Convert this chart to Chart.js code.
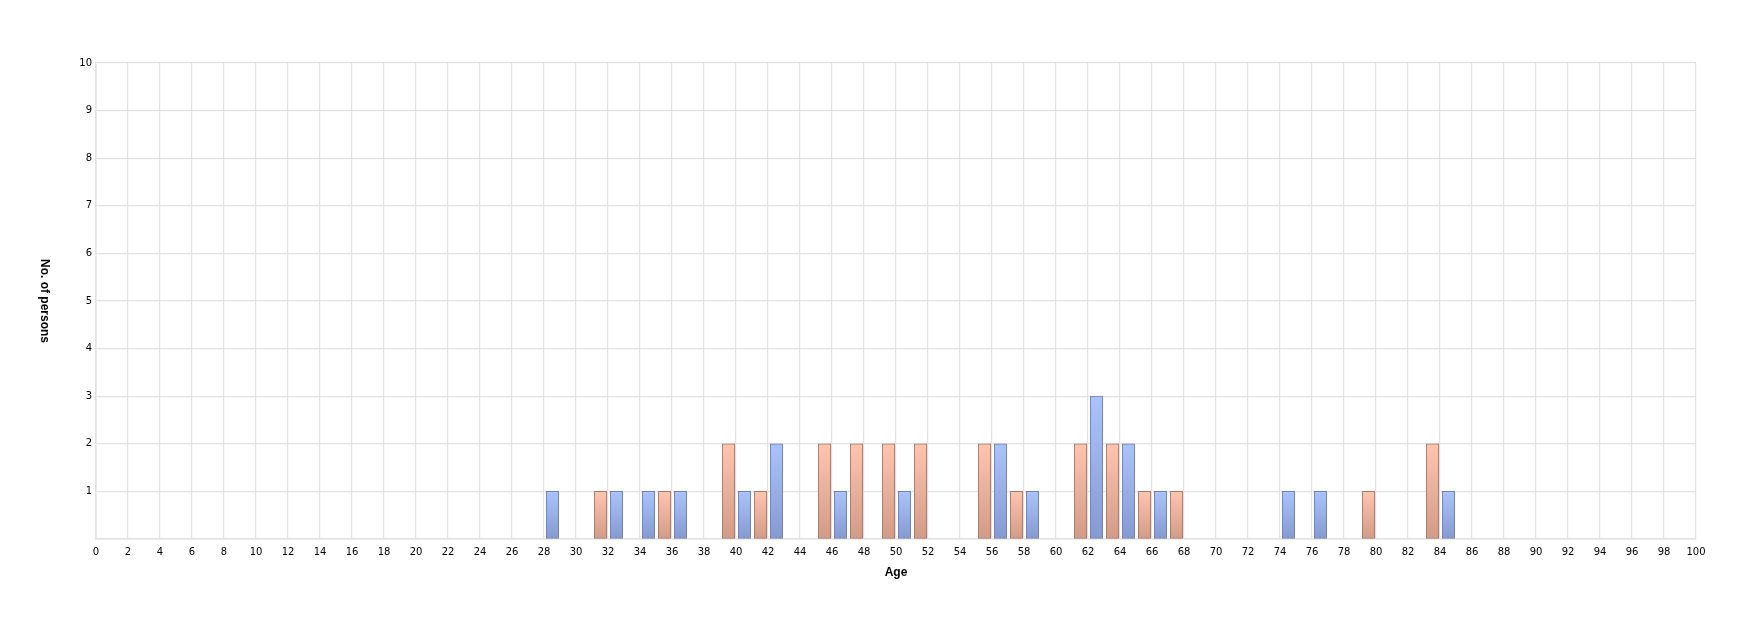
<!DOCTYPE html>
<html lang="en">
<head>
    <meta charset="UTF-8">
    <title>No. of persons by age</title>
    <script src="https://cdn.jsdelivr.net/npm/chart.js"></script>
    <style>
        html, body { margin: 0; padding: 0; background: #fff; }
        #wrap { width: 1760px; height: 628px; }
    </style>
</head>
<body>
    <div id="wrap">
        <canvas id="Chart"></canvas>
    </div>

    <script>
        // ages (bin start) and counts
        const blueAges = [28, 32, 34, 36, 40, 42, 46, 50, 56, 58, 62, 64, 66, 74, 76, 84];
        const blueCounts = [1, 1, 1, 1, 1, 2, 1, 1, 2, 1, 3, 2, 1, 1, 1, 1];
        const orangeAges = [31, 35, 39, 41, 45, 47, 49, 51, 55, 57, 61, 63, 65, 67, 79, 83];
        const orangeCounts = [1, 1, 2, 1, 2, 2, 2, 2, 2, 1, 2, 2, 1, 1, 1, 2];
        const xTitle = 'Age';
        const yTitle = 'No. of persons';

        // bar sits in the middle of its one-year bin
        function toPoints(ages, counts) {
            return ages.map((a, i) => ({ x: a + 0.53, y: counts[i] }));
        }

        // vertical gradient per bar, light at the top
        function barFill(top, bottom) {
            return function (ctx) {
                const chart = ctx.chart;
                const y = chart.scales.y;
                if (!chart.chartArea || !ctx.raw) return top;
                const y0 = y.getPixelForValue(ctx.raw.y);
                const y1 = y.getPixelForValue(0);
                const g = chart.ctx.createLinearGradient(0, y0, 0, y1);
                g.addColorStop(0, top);
                g.addColorStop(1, bottom);
                return g;
            };
        }

        // y title reads top to bottom
        const yTitlePlugin = {
            id: 'yTitle',
            afterDraw(chart) {
                const c = chart.ctx;
                const a = chart.chartArea;
                c.save();
                c.translate(44, (a.top + a.bottom) / 2);
                c.rotate(Math.PI / 2);
                c.font = 'bold 12px "Liberation Sans", Arial, sans-serif';
                c.fillStyle = '#000';
                c.textAlign = 'center';
                c.textBaseline = 'middle';
                c.fillText(yTitle, 0, 0);
                c.restore();
            }
        };

        const tickFont = { family: '"DejaVu Sans", sans-serif', size: 10 };
        const gridColor = '#e2e2e2';

        new Chart(document.getElementById('Chart'), {
            type: 'bar',
            data: {
                datasets: [{
                    data: toPoints(blueAges, blueCounts),
                    backgroundColor: barFill('#aac3fc', '#8699d0'),
                    borderColor: '#6e82b8',
                    borderWidth: 1,
                    borderSkipped: false
                }, {
                    data: toPoints(orangeAges, orangeCounts),
                    backgroundColor: barFill('#fec5ae', '#d19b87'),
                    borderColor: '#a67a6b',
                    borderWidth: 1,
                    borderSkipped: false
                }]
            },
            options: {
                responsive: true,
                maintainAspectRatio: false,
                animation: false,
                grouped: false,
                barThickness: 12.5,
                layout: { padding: { top: 63, right: 64, left: 0, bottom: 0 } },
                plugins: {
                    legend: { display: false },
                    tooltip: { enabled: false }
                },
                scales: {
                    x: {
                        type: 'linear',
                        min: 0,
                        max: 100,
                        offset: false,
                        grid: { color: gridColor, lineWidth: 1.2, offset: false, drawTicks: false },
                        border: { color: gridColor, width: 1.5 },
                        ticks: { stepSize: 2, padding: 7, color: '#000', font: tickFont, maxRotation: 0, autoSkip: false },
                        title: {
                            display: true,
                            text: xTitle,
                            color: '#000',
                            font: { family: '"Liberation Sans", Arial, sans-serif', size: 12, weight: 'bold' },
                            padding: { top: 0, bottom: 48 }
                        },
                        afterFit(s) { s.height = 89; }
                    },
                    y: {
                        min: 0,
                        max: 10,
                        grid: { color: gridColor, lineWidth: 1.2, drawTicks: false },
                        border: { color: gridColor, width: 1.5 },
                        ticks: {
                            stepSize: 1,
                            padding: 4,
                            color: '#000',
                            font: tickFont,
                            callback: v => (v === 0 ? '' : v)
                        },
                        afterFit(s) { s.width = 96; }
                    }
                }
            },
            plugins: [yTitlePlugin]
        });
    </script>
</body>
</html>
